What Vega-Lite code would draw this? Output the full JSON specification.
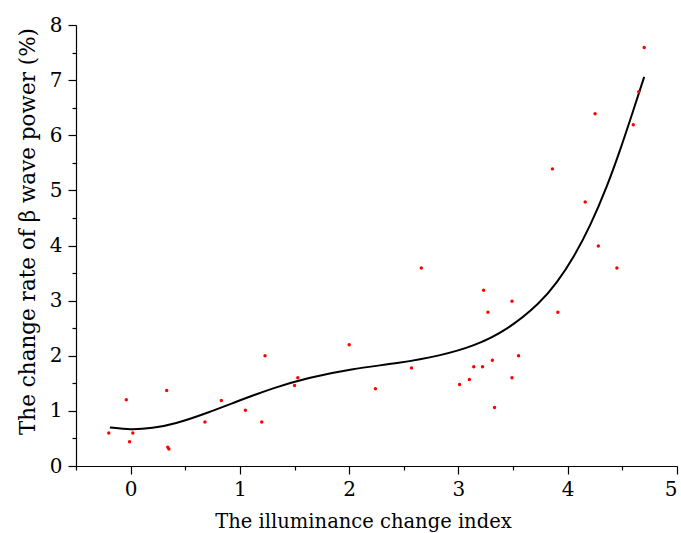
{
  "$schema": "https://vega.github.io/schema/vega-lite/v6.json",
  "width": 601,
  "height": 441,
  "autosize": {"type": "none"},
  "padding": {"left": 76, "top": 25, "right": 4, "bottom": 67},
  "background": "white",
  "config": {
    "view": {"stroke": null},
    "font": "DejaVu Serif",
    "axis": {
      "grid": false,
      "domainColor": "black",
      "domainWidth": 1.2,
      "tickColor": "black",
      "tickWidth": 1.2,
      "tickSize": 8,
      "labelFont": "DejaVu Serif",
      "labelFontSize": 20,
      "labelColor": "black",
      "titleFont": "DejaVu Serif",
      "titleFontSize": 19.5,
      "titleFontWeight": "normal",
      "titleColor": "black"
    }
  },
  "datasets": {
    "samples": [
      {"index": -0.2, "rate": 0.6},
      {"index": -0.04, "rate": 1.2},
      {"index": -0.01, "rate": 0.44},
      {"index": 0.02, "rate": 0.6},
      {"index": 0.33, "rate": 1.37},
      {"index": 0.34, "rate": 0.34},
      {"index": 0.35, "rate": 0.31},
      {"index": 0.68, "rate": 0.8},
      {"index": 0.83, "rate": 1.19},
      {"index": 1.05, "rate": 1.01},
      {"index": 1.2, "rate": 0.8},
      {"index": 1.23, "rate": 2.0},
      {"index": 1.5, "rate": 1.46},
      {"index": 1.53, "rate": 1.6},
      {"index": 2.0, "rate": 2.2},
      {"index": 2.24, "rate": 1.4},
      {"index": 2.57, "rate": 1.78},
      {"index": 2.66, "rate": 3.59},
      {"index": 3.01, "rate": 1.48},
      {"index": 3.1, "rate": 1.57},
      {"index": 3.14, "rate": 1.8},
      {"index": 3.22, "rate": 1.8},
      {"index": 3.23, "rate": 3.19},
      {"index": 3.27, "rate": 2.79},
      {"index": 3.31, "rate": 1.92},
      {"index": 3.33, "rate": 1.06},
      {"index": 3.49, "rate": 2.99},
      {"index": 3.49, "rate": 1.6},
      {"index": 3.55, "rate": 2.0},
      {"index": 3.86, "rate": 5.39},
      {"index": 3.91, "rate": 2.79},
      {"index": 4.16, "rate": 4.79},
      {"index": 4.25, "rate": 6.39},
      {"index": 4.28, "rate": 3.99},
      {"index": 4.45, "rate": 3.59},
      {"index": 4.6, "rate": 6.19},
      {"index": 4.65, "rate": 6.79},
      {"index": 4.7, "rate": 7.59}
    ],
    "trend": [
      {"index": -0.19, "rate": 0.7},
      {"index": 0.0, "rate": 0.655},
      {"index": 0.2, "rate": 0.685},
      {"index": 0.4, "rate": 0.76},
      {"index": 0.7, "rate": 0.96},
      {"index": 1.01, "rate": 1.2},
      {"index": 1.31, "rate": 1.42},
      {"index": 1.62, "rate": 1.6},
      {"index": 2.01, "rate": 1.76},
      {"index": 2.47, "rate": 1.87},
      {"index": 2.83, "rate": 2.0},
      {"index": 3.14, "rate": 2.17},
      {"index": 3.45, "rate": 2.47},
      {"index": 3.75, "rate": 2.96},
      {"index": 3.9, "rate": 3.32},
      {"index": 4.06, "rate": 3.8},
      {"index": 4.21, "rate": 4.37},
      {"index": 4.36, "rate": 5.07},
      {"index": 4.48, "rate": 5.73},
      {"index": 4.6, "rate": 6.45},
      {"index": 4.7, "rate": 7.06}
    ]
  },
  "resolve": {"axis": {"x": "independent", "y": "independent"}},
  "layer": [
    {
      "data": {"name": "samples"},
      "mark": {"type": "point", "opacity": 0},
      "encoding": {
        "x": {
          "field": "index", "type": "quantitative",
          "scale": {"domain": [-0.5, 5], "nice": false, "zero": false},
          "axis": {"orient": "bottom", "values": [-0.5, 0.5, 1.5, 2.5, 3.5, 4.5], "labels": false, "tickSize": 4, "domain": false, "title": null}
        },
        "y": {
          "field": "rate", "type": "quantitative",
          "scale": {"domain": [0, 8], "nice": false},
          "axis": {"orient": "left", "values": [0.5, 1.5, 2.5, 3.5, 4.5, 5.5, 6.5, 7.5], "labels": false, "tickSize": 4, "domain": false, "title": null}
        }
      }
    },
    {
      "data": {"name": "trend"},
      "mark": {"type": "line", "color": "black", "strokeWidth": 2, "interpolate": "basis"},
      "encoding": {
        "x": {
          "field": "index", "type": "quantitative",
          "axis": {"orient": "bottom", "values": [0, 1, 2, 3, 4, 5], "labelPadding": 5, "titlePadding": 13, "titleX": 287, "title": "The illuminance change index"}
        },
        "y": {
          "field": "rate", "type": "quantitative",
          "axis": {"orient": "left", "values": [0, 1, 2, 3, 4, 5, 6, 7, 8], "labelPadding": 6, "titlePadding": 10, "titleFontSize": 21.5, "titleY": 206, "title": "The change rate of β wave power (%)"}
        }
      }
    },
    {
      "data": {"name": "samples"},
      "mark": {"type": "circle", "color": "#ff0000", "opacity": 1, "size": 12},
      "encoding": {
        "x": {"field": "index", "type": "quantitative", "axis": null},
        "y": {"field": "rate", "type": "quantitative", "axis": null}
      }
    }
  ]
}
